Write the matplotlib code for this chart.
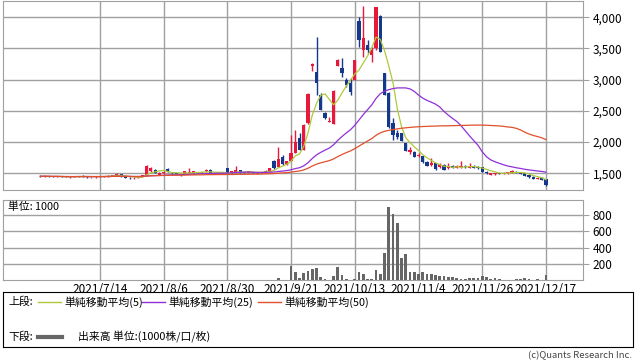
#株価チャート（ローソク足＋移動平均＋出来高）
import numpy as np
import pandas as pd
import matplotlib
matplotlib.use('Agg')
from matplotlib import pyplot as plt

plt.rcParams['font.family'] = ['Noto Sans CJK JP', 'DejaVu Sans']

#日付ラベル（15営業日ごと）
tick_idx = [14, 29, 44, 59, 74, 89, 104, 119]
tick_labels = ['2021/7/14', '2021/8/6', '2021/8/30', '2021/9/21',
               '2021/10/13', '2021/11/4', '2021/11/26', '2021/12/17']

#四本値
opens = [1455, 1450, 1455, 1450, 1445, 1452, 1445, 1442, 1448, 1450,
         1458, 1445, 1438, 1440, 1442, 1450, 1455, 1460, 1468, 1485,
         1445, 1428, 1420, 1432, 1442, 1470, 1540, 1560, 1480, 1500,
         1575, 1515, 1505, 1470, 1490, 1505, 1500, 1510, 1505, 1530,
         1560, 1505, 1500, 1502, 1580, 1500, 1510, 1545, 1510, 1505,
         1520, 1500, 1515, 1510, 1530, 1698, 1607, 1756, 1650, 1703,
         1831, 2061, 1874, 2301, 3220, 3129, 2755, 2462, 2320, 2290,
         3220, 3183, 2996, 2942, 2996, 3947, 3477, 3557, 3396, 3503,
         4021, 3103, 2782, 2301, 2152, 2141, 1981, 1847, 1847, 1780,
         1769, 1688, 1640, 1661, 1597, 1634, 1580, 1610, 1590, 1600,
         1612, 1590, 1615, 1600, 1597, 1520, 1480, 1485, 1500, 1488,
         1500, 1510, 1520, 1505, 1500, 1470, 1445, 1410, 1430, 1403]
highs = [1465, 1460, 1462, 1458, 1455, 1460, 1455, 1452, 1455, 1462,
         1465, 1452, 1448, 1450, 1458, 1462, 1470, 1475, 1498, 1492,
         1450, 1440, 1435, 1445, 1480, 1640, 1600, 1570, 1520, 1530,
         1580, 1522, 1512, 1488, 1535, 1590, 1540, 1518, 1515, 1570,
         1565, 1512, 1510, 1512, 1585, 1535, 1610, 1550, 1518, 1540,
         1525, 1525, 1522, 1545, 1590, 1720, 1927, 1790, 1700, 2114,
         2194, 2141, 2290, 2780, 3260, 3680, 2782, 2480, 2408, 2830,
         3330, 3343, 3022, 3022, 3320, 4011, 4182, 3637, 3530, 4160,
         4037, 3110, 2809, 2381, 2194, 2150, 1990, 1927, 1855, 1820,
         1775, 1700, 1740, 1670, 1660, 1645, 1660, 1625, 1640, 1700,
         1625, 1660, 1625, 1620, 1605, 1530, 1510, 1510, 1510, 1515,
         1525, 1550, 1530, 1520, 1505, 1478, 1450, 1440, 1438, 1410]
lows = [1445, 1440, 1445, 1440, 1438, 1440, 1438, 1432, 1440, 1445,
        1448, 1430, 1428, 1430, 1438, 1442, 1448, 1452, 1460, 1445,
        1418, 1415, 1412, 1425, 1435, 1465, 1520, 1500, 1470, 1495,
        1515, 1495, 1488, 1462, 1485, 1500, 1495, 1500, 1498, 1525,
        1505, 1495, 1492, 1495, 1495, 1495, 1505, 1505, 1500, 1500,
        1500, 1495, 1505, 1505, 1525, 1570, 1600, 1640, 1640, 1700,
        1825, 1870, 1870, 2290, 3145, 2755, 2510, 2370, 2315, 2285,
        3215, 3049, 2889, 2755, 2990, 3530, 3370, 3423, 3290, 3477,
        3450, 2750, 2221, 2034, 2045, 2010, 1850, 1810, 1760, 1765,
        1670, 1615, 1610, 1560, 1585, 1545, 1570, 1580, 1580, 1590,
        1590, 1585, 1580, 1570, 1520, 1490, 1475, 1480, 1485, 1482,
        1490, 1505, 1500, 1485, 1455, 1430, 1405, 1405, 1395, 1300]
closes = [1450, 1455, 1448, 1445, 1450, 1442, 1440, 1445, 1446, 1455,
          1452, 1440, 1442, 1445, 1452, 1458, 1462, 1470, 1488, 1450,
          1425, 1420, 1430, 1440, 1470, 1620, 1580, 1505, 1510, 1520,
          1520, 1500, 1492, 1482, 1530, 1515, 1530, 1505, 1508, 1560,
          1510, 1500, 1505, 1500, 1500, 1530, 1550, 1510, 1505, 1535,
          1505, 1520, 1510, 1540, 1580, 1580, 1724, 1650, 1690, 1831,
          2007, 1874, 2275, 2771, 3252, 2942, 2515, 2381, 2330, 2819,
          3316, 3103, 2916, 2809, 3316, 3637, 3663, 3477, 3477, 4160,
          3450, 2755, 2248, 2114, 2088, 2024, 1863, 1874, 1767, 1800,
          1677, 1624, 1665, 1570, 1650, 1554, 1608, 1590, 1615, 1610,
          1598, 1620, 1590, 1580, 1527, 1500, 1505, 1500, 1490, 1505,
          1515, 1540, 1510, 1495, 1462, 1435, 1410, 1430, 1400, 1315]
#出来高（単位:1000）
volumes = [2, 3, 2, 2, 3, 2, 2, 3, 2, 2,
           3, 2, 2, 2, 3, 2, 2, 3, 3, 2,
           2, 2, 3, 2, 3, 4, 3, 2, 2, 3,
           2, 2, 2, 2, 3, 3, 2, 2, 2, 3,
           2, 2, 2, 2, 3, 2, 3, 2, 2, 2,
           2, 2, 2, 3, 4, 5, 29, 6, 5, 176,
           103, 29, 88, 111, 140, 152, 41, 12, 4, 49,
           164, 62, 12, 4, 12, 94, 74, 12, 12, 123,
           74, 336, 902, 808, 705, 275, 320, 103, 103, 74,
           94, 74, 74, 62, 49, 49, 41, 41, 25, 16,
           12, 25, 25, 25, 49, 37, 12, 25, 12, 4,
           4, 4, 8, 8, 25, 12, 4, 16, 4, 62]

RED = '#e8173c'
BLUE = '#14388c'
GRID = '#a0a0a0'
C5, C25, C50 = '#b0c83a', '#9030d8', '#e0502a'

o = np.array(opens); h = np.array(highs); l = np.array(lows); c = np.array(closes)
x = np.arange(len(c))
col = np.where(c >= o, RED, BLUE)
close_s = pd.Series(c, dtype=float)
ma5 = close_s.rolling(5, min_periods=1).mean()
ma25 = close_s.rolling(25, min_periods=1).mean()
ma50 = close_s.rolling(50, min_periods=1).mean()

fig = plt.figure(figsize=(6.38, 3.62), dpi=100)
ax_p = fig.add_axes([3/638, 1-190/362, 580/638, 189/362])
ax_v = fig.add_axes([3/638, 1-280/362, 580/638, 80/362])
ax_l = fig.add_axes([3/638, 1-347/362, 630/638, 55/362])

#上段
ax_p.vlines(x, l, h, colors=col, lw=1, zorder=3)
ax_p.bar(x, np.maximum(np.abs(c-o), 8), bottom=np.minimum(o, c), width=0.75,
         color=col, lw=0, zorder=3)
ax_p.plot(x, ma5, color=C5, lw=0.9, zorder=4)
ax_p.plot(x, ma25, color=C25, lw=0.9, zorder=4)
ax_p.plot(x, ma50, color=C50, lw=0.9, zorder=4)
ax_p.set_xlim(-8.8, 127.7)
ax_p.set_ylim(1232, 4261)
ax_p.set_yticks([1500, 2000, 2500, 3000, 3500, 4000])
ax_p.set_yticklabels(['1,500', '2,000', '2,500', '3,000', '3,500', '4,000'])
ax_p.yaxis.tick_right()
ax_p.set_xticks(tick_idx)
ax_p.set_xticklabels([])
ax_p.tick_params(axis='x', length=0)
ax_p.tick_params(axis='y', length=4, color=GRID, labelsize=8.5, pad=3)

#下段
ax_v.bar(x, volumes, width=0.65, color='#666666', lw=0, zorder=3)
ax_v.set_xlim(-8.8, 127.7)
ax_v.set_ylim(0, 985)
ax_v.set_yticks([200, 400, 600, 800])
ax_v.yaxis.tick_right()
ax_v.set_xticks(tick_idx)
ax_v.set_xticklabels(tick_labels)
ax_v.tick_params(axis='x', length=0, labelsize=8.5, pad=2)
ax_v.tick_params(axis='y', length=4, color=GRID, labelsize=8.5, pad=3)
ax_v.text(5/580, 73/80, '単位: 1000', transform=ax_v.transAxes, fontsize=7.8,
          va='center', ha='left')

for ax in (ax_p, ax_v):
    ax.grid(color=GRID, lw=1, zorder=0)
    ax.set_axisbelow(True)
    for s in ax.spines.values():
        s.set_color(GRID)

#凡例
ax_l.set_xlim(0, 630)
ax_l.set_ylim(55, 0)
ax_l.set_xticks([]); ax_l.set_yticks([])
for s in ax_l.spines.values():
    s.set_color('black')
ax_l.text(5, 10, '上段:', fontsize=7.8, va='center')
ax_l.text(5, 45, '下段:', fontsize=7.8, va='center')
legend_items = [(35, C5, '単純移動平均(5)'),
                (139, C25, '単純移動平均(25)'),
                (255, C50, '単純移動平均(50)')]
for lx, lc, lt in legend_items:
    ax_l.plot([lx, lx+23], [10, 10], color=lc, lw=1)
    ax_l.text(lx+26, 10, lt, fontsize=7.8, va='center')
ax_l.plot([35, 59], [45, 45], color='#666666', lw=3)
ax_l.text(75, 45, '出来高 単位:(1000株/口/枚)', fontsize=7.8, va='center')

fig.text(632/638, 1-356/362, '(c)Quants Research Inc.', ha='right', va='center',
         fontsize=6.8, color='#444444')

plt.savefig('out.png', dpi=100)
